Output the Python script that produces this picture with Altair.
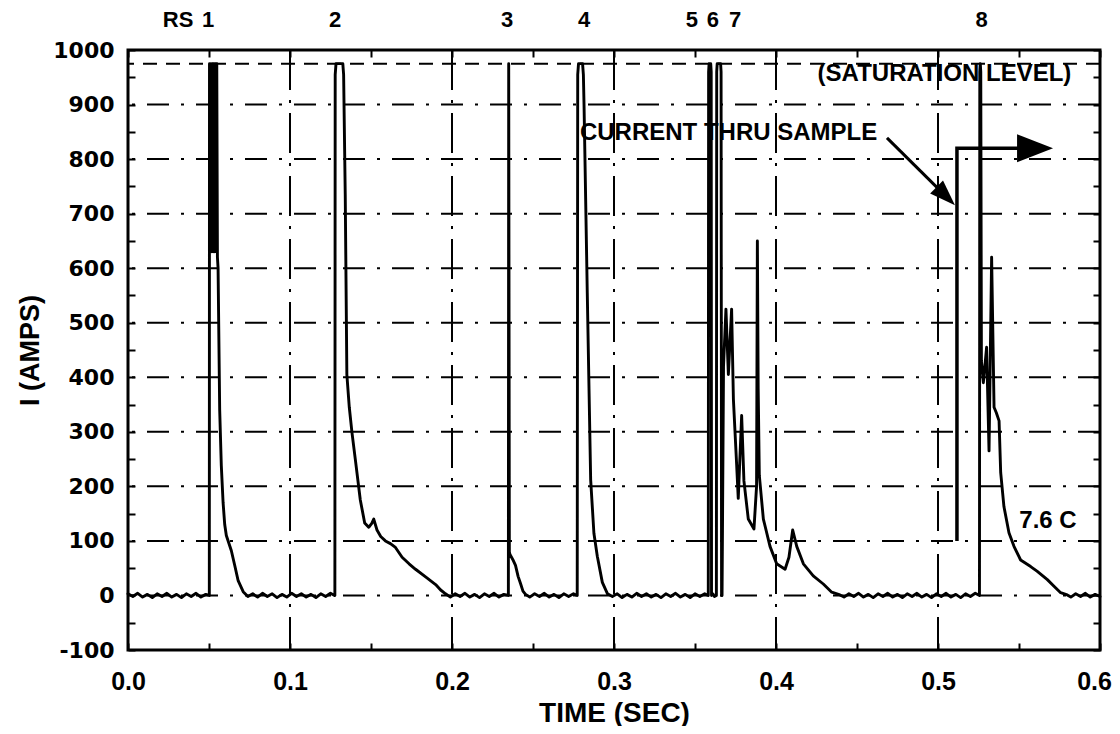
import altair as alt
import pandas as pd

# ---------------- data ----------------
# main current trace, segment by segment (time in s, current in A)
base0_t = [0.000, 0.003, 0.006, 0.009, 0.012, 0.015, 0.018, 0.021, 0.024, 0.027,
           0.030, 0.033, 0.036, 0.039, 0.042, 0.045, 0.048]
base0_i = [3, -2, 4, -3, 2, -4, 3, -2, 4, -3, 2, -4, 3, -2, 4, -3, 2]

pulse1_t = [0.0502, 0.0503, 0.0508, 0.0512, 0.0517, 0.0521, 0.0526, 0.0530, 0.0535,
            0.0539, 0.0544, 0.0548, 0.0552, 0.0556, 0.0566, 0.0576, 0.0587, 0.0597,
            0.0607, 0.0638, 0.0659, 0.0680, 0.0711]
pulse1_i = [0, 975, 630, 975, 630, 975, 630, 975, 630, 975, 630, 975, 620, 600, 340,
            238, 170, 130, 110, 82, 55, 27, 7]

base1_t = [0.074, 0.077, 0.080, 0.083, 0.086, 0.089, 0.092, 0.095, 0.098, 0.101,
           0.104, 0.107, 0.110, 0.113, 0.116, 0.119, 0.122, 0.125, 0.1275]
base1_i = [-2, 3, -3, 4, -2, 3, -4, 2, -3, 4, -2, 3, -3, 2, -4, 3, -2, 4, 0]

pulse2_t = [0.1277, 0.1279, 0.1284, 0.1326, 0.1331, 0.1341, 0.1351, 0.1366, 0.1382,
            0.1403, 0.1434, 0.1461, 0.1486, 0.1505, 0.1517, 0.1537, 0.1560, 0.1589,
            0.1620, 0.1651, 0.1692, 0.1735, 0.1775, 0.1837, 0.1899, 0.1930, 0.1960]
pulse2_i = [0, 955, 975, 975, 955, 735, 405, 345, 300, 250, 175, 133, 125, 132, 140,
            120, 108, 100, 95, 88, 70, 58, 48, 34, 20, 10, 3]

base2_t = [0.199, 0.202, 0.205, 0.208, 0.211, 0.214, 0.217, 0.220, 0.223, 0.226,
           0.229, 0.232, 0.2348]
base2_i = [-3, 3, -2, 4, -3, 2, -4, 3, -2, 4, -3, 2, 0]

pulse3_t = [0.2350, 0.2354, 0.2358, 0.2375, 0.2392, 0.2408, 0.2423, 0.2438, 0.2454]
pulse3_i = [975, 80, 75, 66, 55, 35, 22, 8, 2]

base3_t = [0.248, 0.251, 0.254, 0.257, 0.260, 0.263, 0.266, 0.269, 0.272, 0.275, 0.2771]
base3_i = [-3, 3, -2, 4, -3, 2, -4, 3, -2, 3, 0]

pulse4_t = [0.2773, 0.2776, 0.2781, 0.2806, 0.2811, 0.2815, 0.2835, 0.2856, 0.2876,
            0.2897, 0.2928, 0.2960]
pulse4_i = [0, 955, 975, 975, 955, 900, 555, 212, 114, 72, 24, 3]

base4_t = [0.299, 0.302, 0.305, 0.308, 0.311, 0.314, 0.317, 0.320, 0.323, 0.326,
           0.329, 0.332, 0.335, 0.338, 0.341, 0.344, 0.347, 0.350, 0.353, 0.356, 0.3582]
base4_i = [-2, 3, -4, 2, -3, 4, -2, 3, -3, 2, -4, 3, -2, 4, -3, 2, -4, 3, -2, 3, 0]

pulse5_t = [0.3584, 0.3587, 0.3597, 0.3600, 0.3602, 0.3610, 0.3620, 0.3632]
pulse5_i = [960, 975, 975, 960, 0, 3, -2, 0]

pulse67_t = [0.3634, 0.3637, 0.3658, 0.3661, 0.3664, 0.3667, 0.3676, 0.3691, 0.3706,
             0.3726, 0.3737, 0.3757, 0.3767, 0.3788, 0.3802, 0.3829, 0.3864, 0.3880,
             0.3885, 0.3890, 0.3897, 0.3922, 0.3963, 0.4004, 0.4056, 0.4080, 0.4103,
             0.4128, 0.4169, 0.4230, 0.4292, 0.4344, 0.4395]
pulse67_i = [960, 975, 975, 960, 0, 0, 420, 525, 405, 525, 360, 240, 178, 330, 210,
             140, 122, 200, 650, 380, 220, 140, 90, 58, 48, 70, 120, 90, 58, 36, 21, 6, 1]

base5_t = [0.442, 0.445, 0.448, 0.451, 0.454, 0.457, 0.460, 0.463, 0.466, 0.469,
           0.472, 0.475, 0.478, 0.481, 0.484, 0.487, 0.490, 0.493, 0.496, 0.499,
           0.502, 0.505, 0.508, 0.511, 0.514, 0.517, 0.520, 0.523, 0.5256]
base5_i = [-3, 3, -2, 4, -3, 2, -4, 3, -2, 4, -3, 2, -4, 3, -2, 4, -3, 2, -4, 3,
           -2, 4, -3, 2, -4, 3, -2, 4, 0]

pulse8_t = [0.5258, 0.5261, 0.5264, 0.5268, 0.5280, 0.5300, 0.5315, 0.5331, 0.5346,
            0.5360, 0.5377, 0.5387, 0.5407, 0.5438, 0.5469, 0.5510, 0.5572, 0.5613,
            0.5675, 0.5716, 0.5757, 0.5798]
pulse8_i = [960, 975, 960, 430, 390, 455, 265, 620, 345, 335, 320, 225, 163, 115, 90,
            65, 53, 44, 29, 17, 5, 1]

base6_t = [0.582, 0.585, 0.588, 0.591, 0.594, 0.597, 0.600]
base6_i = [-3, 3, -2, 4, -3, 2, -2]

# current through the sample (second trace)
sample_t = [0.5117, 0.5117, 0.5495]
sample_i = [100, 820, 820]
sample_arrow_t = [0.5599]
sample_arrow_i = [820]

# saturation level and grid
saturation_level = [975]
grid_x = [0.1, 0.2, 0.3, 0.4, 0.5]
grid_y = [0, 100, 200, 300, 400, 500, 600, 700, 800, 900]

# axes
x_labels = [0.0, 0.1, 0.2, 0.3, 0.4, 0.5, 0.6]
y_labels = [-100, 0, 100, 200, 300, 400, 500, 600, 700, 800, 900, 1000]
x_ticks = [0.0, 0.05, 0.1, 0.15, 0.2, 0.25, 0.3, 0.35, 0.4, 0.45, 0.5, 0.55, 0.6]
y_ticks = [-100, -50, 0, 50, 100, 150, 200, 250, 300, 350, 400, 450, 500, 550, 600,
           650, 700, 750, 800, 850, 900, 950, 1000]

# pulse labels above the plot
pulse_label_text = ["RS", "1", "2", "3", "4", "5", "6", "7", "8"]
pulse_label_t = [0.0309, 0.0494, 0.1278, 0.2340, 0.2815, 0.3480, 0.3610, 0.3747, 0.5270]
pulse_label_level = 1055

# annotations
note_text = ["(SATURATION LEVEL)", "CURRENT THRU SAMPLE", "7.6 C"]
note_t = [0.5040, 0.4625, 0.5679]
note_i = [956, 848, 137]
note_align = ["center", "right", "center"]
pointer_t = [0.4685, 0.5048]
pointer_i = [839, 732]
pointer_head_t = [0.5048]
pointer_head_i = [732]

# ---------------- build tables ----------------
seg_t = base0_t + pulse1_t + base1_t + pulse2_t + base2_t + pulse3_t + base3_t + \
    pulse4_t + base4_t + pulse5_t + pulse67_t + base5_t + pulse8_t + base6_t
seg_i = base0_i + pulse1_i + base1_i + pulse2_i + base2_i + pulse3_i + base3_i + \
    pulse4_i + base4_i + pulse5_i + pulse67_i + base5_i + pulse8_i + base6_i
trace_df = pd.DataFrame({"t": seg_t, "i": seg_i, "k": list(range(len(seg_t)))})
sample_df = pd.DataFrame({"t": sample_t, "i": sample_i, "k": list(range(len(sample_t)))})
sample_arrow_df = pd.DataFrame({"t": sample_arrow_t, "i": sample_arrow_i})
gx_df = pd.DataFrame({"t": grid_x})
gy_df = pd.DataFrame({"i": grid_y})
sat_df = pd.DataFrame({"i": saturation_level})
plab_df = pd.DataFrame({"t": pulse_label_t, "i": [pulse_label_level] * len(pulse_label_t),
                        "txt": pulse_label_text})
note_df = pd.DataFrame({"t": note_t, "i": note_i, "txt": note_text, "al": note_align})
pointer_df = pd.DataFrame({"t": pointer_t, "i": pointer_i})
pointer_head_df = pd.DataFrame({"t": pointer_head_t, "i": pointer_head_i})

# ---------------- scales / axes ----------------
xs = alt.Scale(domain=[0, 0.6], nice=False, zero=False)
ys = alt.Scale(domain=[-100, 1000], nice=False, zero=False)

LBL_FONT = "Liberation Sans"

x_label_axis = alt.Axis(values=x_labels, format=".1f", orient="bottom", ticks=False,
                        domain=False, grid=False, labelFont=LBL_FONT, labelFontSize=25,
                        labelFontWeight="bold", labelColor="black", labelPadding=19,
                        labelFlush=False,
                        labelOffset={"condition": {"test": "datum.value > 0.55", "value": -6},
                                     "value": 0},
                        title="TIME (SEC)", titleFont=LBL_FONT,
                        titleFontSize=28, titleFontWeight="bold", titleColor="black",
                        titleBaseline="alphabetic", titleY=71)
y_label_axis = alt.Axis(values=y_labels, labelExpr="'' + datum.value", orient="left",
                        ticks=False, domain=False, grid=False, labelFont="DejaVu Sans",
                        labelFontSize=22, labelFontWeight="bold", labelColor="black",
                        labelPadding=14, labelFlush=False, title="I (AMPS)",
                        titleFont=LBL_FONT, titleFontSize=27, titleFontWeight="bold",
                        titleColor="black", titlePadding=8)


def tick_axis(vals, orient):
    return alt.Axis(values=vals, orient=orient, labels=False, domain=False, grid=False,
                    ticks=True, tickSize=7, tickWidth=2, tickColor="black", offset=-7,
                    title=None)


# ---------------- layers ----------------
vgrid = alt.Chart(gx_df).mark_rule(color="black", strokeWidth=2,
                                   strokeDash=[40, 10, 3, 10]).encode(
    x=alt.X("t:Q", scale=xs, axis=tick_axis(x_ticks, "bottom")))

hgrid = alt.Chart(gy_df).mark_rule(color="black", strokeWidth=2,
                                   strokeDash=[22, 12, 3, 12]).encode(
    y=alt.Y("i:Q", scale=ys, axis=tick_axis(y_ticks, "left")))

sat = alt.Chart(sat_df).mark_rule(color="black", strokeWidth=2,
                                  strokeDash=[14, 9]).encode(
    y=alt.Y("i:Q", scale=ys, axis=None))

trace = alt.Chart(trace_df).mark_line(color="black", strokeWidth=2.9, strokeJoin="round",
                                      strokeCap="round").encode(
    x=alt.X("t:Q", scale=xs, axis=x_label_axis),
    y=alt.Y("i:Q", scale=ys, axis=y_label_axis),
    order=alt.Order("k:Q"))

sample = alt.Chart(sample_df).mark_line(color="black", strokeWidth=3.5,
                                        strokeJoin="miter").encode(
    x=alt.X("t:Q", scale=xs, axis=tick_axis(x_ticks, "top")),
    y=alt.Y("i:Q", scale=ys, axis=tick_axis(y_ticks, "right")),
    order=alt.Order("k:Q"))

sample_head = alt.Chart(sample_arrow_df).mark_point(
    shape="M-1,-0.78L1,0L-1,0.78Z", size=1296, filled=True, color="black",
    opacity=1, angle=0).encode(
    x=alt.X("t:Q", scale=xs, axis=None), y=alt.Y("i:Q", scale=ys, axis=None))

pointer = alt.Chart(pointer_df).mark_line(color="black", strokeWidth=3).encode(
    x=alt.X("t:Q", scale=xs, axis=None), y=alt.Y("i:Q", scale=ys, axis=None))

pointer_head = alt.Chart(pointer_head_df).mark_point(
    shape="M-1,-0.7L1,0L-1,0.7Z", size=676, filled=True, color="black",
    opacity=1, angle=45).encode(
    x=alt.X("t:Q", scale=xs, axis=None), y=alt.Y("i:Q", scale=ys, axis=None))

plabels = alt.Chart(plab_df).mark_text(font=LBL_FONT, fontWeight="bold", fontSize=22,
                                       color="black", baseline="middle").encode(
    x=alt.X("t:Q", scale=xs, axis=None), y=alt.Y("i:Q", scale=ys, axis=None),
    text="txt:N")

notes_c = alt.Chart(note_df[note_df.al == "center"]).mark_text(
    font=LBL_FONT, fontWeight="bold", fontSize=24, color="black", baseline="middle",
    align="center").encode(
    x=alt.X("t:Q", scale=xs, axis=None), y=alt.Y("i:Q", scale=ys, axis=None),
    text="txt:N")

notes_r = alt.Chart(note_df[note_df.al == "right"]).mark_text(
    font=LBL_FONT, fontWeight="bold", fontSize=24, color="black", baseline="middle",
    align="right").encode(
    x=alt.X("t:Q", scale=xs, axis=None), y=alt.Y("i:Q", scale=ys, axis=None),
    text="txt:N")

chart = alt.layer(vgrid, hgrid, sat, trace, sample, sample_head, pointer, pointer_head,
                  plabels, notes_c, notes_r).resolve_axis(
    x="independent", y="independent").properties(
    width=972, height=600,
    padding={"left": 120, "top": 42, "right": 12, "bottom": 76},
    autosize=alt.AutoSizeParams(type="none"),
    background="white").configure_view(stroke="black", strokeWidth=3)

chart.save("out.html", embed_options={"renderer": "svg", "actions": False})
